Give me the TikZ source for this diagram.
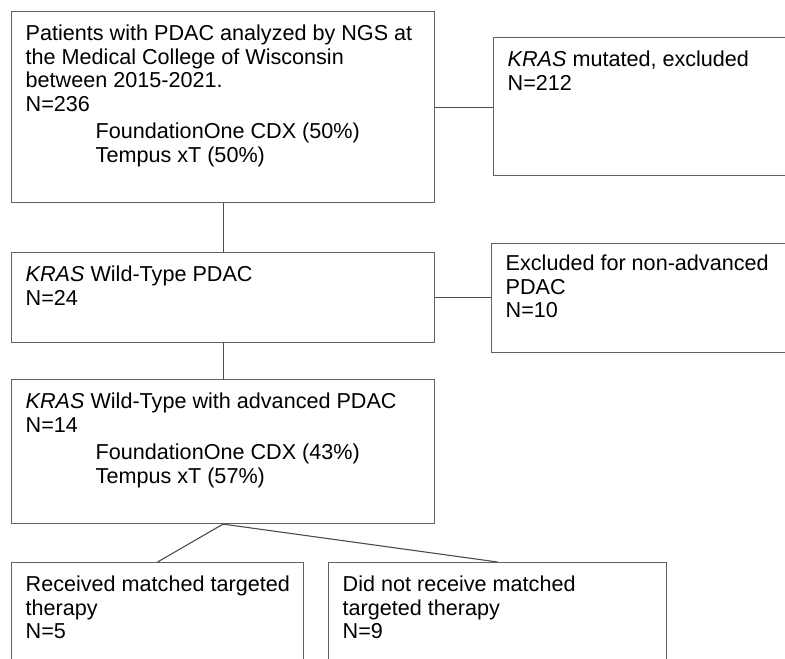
\documentclass[tikz,border=0pt]{standalone}
\usepackage{fontspec}
\setmainfont{Liberation Sans}
\begin{document}
\begin{tikzpicture}[x=1pt,y=-1pt,
  box/.style={draw=black!62, line width=1.1pt, rectangle, inner sep=0pt, anchor=north west},
  txt/.style={anchor=north west, inner sep=0pt, align=left, xshift=14.5pt, yshift=-14pt,
    font=\fontsize{21.6}{23.5}\selectfont},
  link/.style={draw=black!70, line width=1.1pt}]
\clip (0,0) rectangle (785,659);
% boxes of the flow chart
\node[box, minimum width=423pt, minimum height=191pt] (b1) at (11,11) {};
\node[box, minimum width=330pt, minimum height=138pt] (b2) at (493,37) {};
\node[box, minimum width=423pt, minimum height=90pt]  (b3) at (11,252) {};
\node[box, minimum width=330pt, minimum height=109pt] (b4) at (491,243) {};
\node[box, minimum width=423pt, minimum height=144pt] (b5) at (11,379) {};
\node[box, minimum width=292pt, minimum height=130pt] (b6) at (11,562) {};
\node[box, minimum width=338pt, minimum height=130pt] (b7) at (328,562) {};
% box texts
\node[txt] (t1) at (b1.north west) {Patients with PDAC analyzed by NGS at\\
  the Medical College of Wisconsin\\
  between 2015-2021.\\
  N=236\\[4pt]
  \hspace*{70pt}FoundationOne CDX (50\%)\\
  \hspace*{70pt}Tempus xT (50\%)};
\node[txt] (t2) at (b2.north west) {\textit{KRAS} mutated, excluded\\ N=212};
\node[txt] (t3) at (b3.north west) {\textit{KRAS} Wild-Type PDAC\\ N=24};
\node[txt, yshift=2pt] (t4) at (b4.north west) {Excluded for non-advanced\\ PDAC\\ N=10};
\node[txt] (t5) at (b5.north west) {\textit{KRAS} Wild-Type with advanced PDAC\\
  N=14\\[4pt]
  \hspace*{70pt}FoundationOne CDX (43\%)\\
  \hspace*{70pt}Tempus xT (57\%)};
\node[txt] (t6) at (b6.north west) {Received matched targeted\\ therapy\\ N=5};
\node[txt] (t7) at (b7.north west) {Did not receive matched\\ targeted therapy\\ N=9};
% connectors
\draw[link] (b1.east) -- (b1.east -| b2.west);
\draw[link] (b1.south) -- (b3.north);
\draw[link] (b3.east) -- (b3.east -| b4.west);
\draw[link] (b3.south) -- (b5.north);
\draw[link] (b5.south) -- (b6.north);
\draw[link] (b5.south) -- (b7.north);
\end{tikzpicture}
\end{document}
